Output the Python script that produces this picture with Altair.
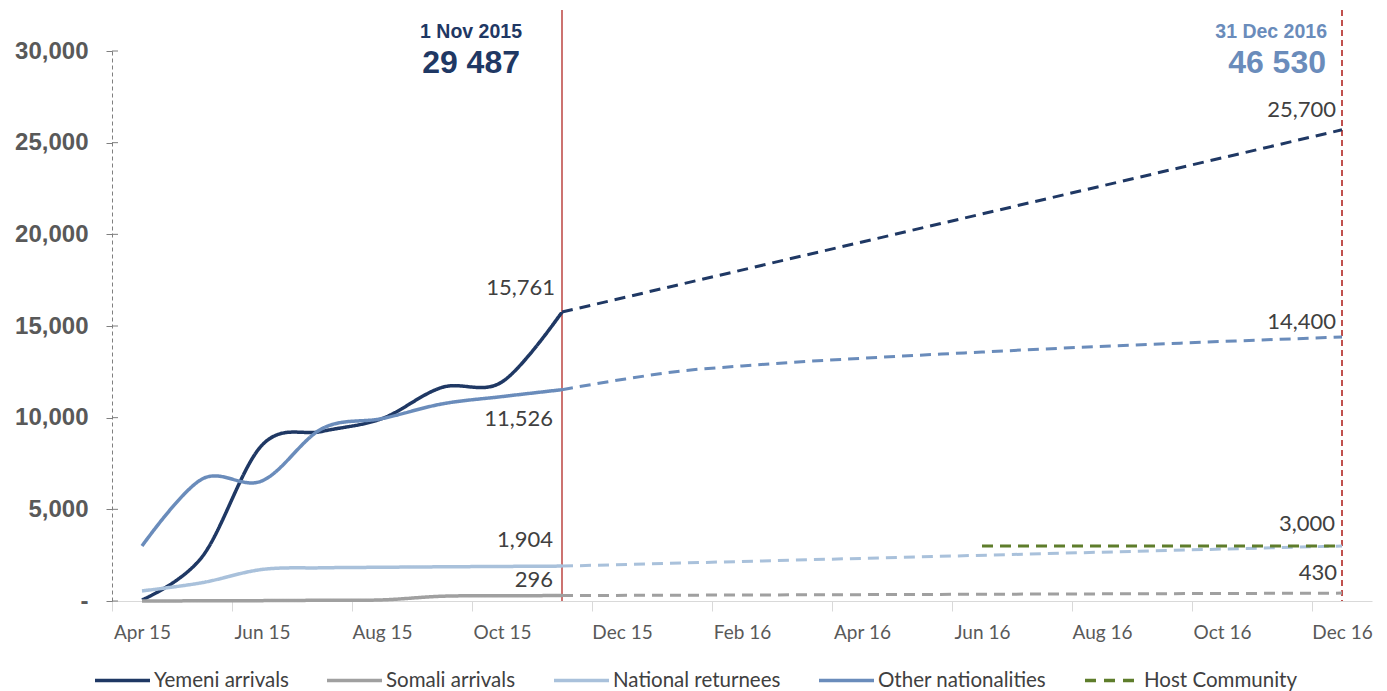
import altair as alt
import pandas as pd

# ---------------- data ----------------
series_names = ["Yemeni arrivals", "Somali arrivals", "National returnees",
                "Other nationalities", "Host Community"]
series_colors = ["#1f3864", "#a0a0a0", "#a9c1db", "#6a8cbb", "#5e7d2b"]

actual_months = ["2015-04", "2015-05", "2015-06", "2015-07",
                 "2015-08", "2015-09", "2015-10", "2015-11"]
yemeni_actual = [60, 2400, 8500, 9250, 9950, 11650, 11950, 15761]
somali_actual = [0, 10, 20, 40, 60, 260, 285, 296]
national_actual = [550, 1000, 1720, 1810, 1840, 1865, 1885, 1904]
other_actual = [3000, 6650, 6550, 9400, 9950, 10750, 11150, 11526]

yemeni_proj_months = ["2015-11", "2016-12"]
yemeni_proj = [15761, 25700]
somali_proj_months = ["2015-11", "2016-12"]
somali_proj = [296, 430]
national_proj_months = ["2015-11", "2016-12"]
national_proj = [1904, 3000]
other_proj_months = ["2015-11", "2015-12", "2016-01", "2016-02", "2016-06", "2016-12"]
other_proj = [11526, 12080, 12550, 12820, 13580, 14400]
host_proj_months = ["2016-06", "2016-12"]
host_proj = [3000, 3000]

tick_labels = ["Apr 15", "Jun 15", "Aug 15", "Oct 15", "Dec 15", "Feb 16",
               "Apr 16", "Jun 16", "Aug 16", "Oct 16", "Dec 16"]
y_ticks = [0, 5000, 10000, 15000, 20000, 25000, 30000]

event_months = ["2015-11", "2016-12"]
event_dates = ["1 Nov 2015", "31 Dec 2016"]
event_totals = ["29 487", "46 530"]


def month_pos(m):
    y, mo = m.split("-")
    return (int(y) - 2015) * 12 + int(mo) - 4 + 0.5


rows = []
for name, months, vals in [
    ("Yemeni arrivals", actual_months, yemeni_actual),
    ("Somali arrivals", actual_months, somali_actual),
    ("National returnees", actual_months, national_actual),
    ("Other nationalities", actual_months, other_actual),
]:
    for m, v in zip(months, vals):
        rows.append({"series": name, "month": m, "pos": month_pos(m), "value": v, "phase": "actual"})
for name, months, vals in [
    ("Yemeni arrivals", yemeni_proj_months, yemeni_proj),
    ("Somali arrivals", somali_proj_months, somali_proj),
    ("National returnees", national_proj_months, national_proj),
    ("Other nationalities", other_proj_months, other_proj),
    ("Host Community", host_proj_months, host_proj),
]:
    for m, v in zip(months, vals):
        rows.append({"series": name, "month": m, "pos": month_pos(m), "value": v, "phase": "projection"})
df = pd.DataFrame(rows)
actual_df = df[df.phase == "actual"]
proj_df = df[df.phase == "projection"]

events = pd.DataFrame({"pos": [month_pos(m) for m in event_months],
                       "date": event_dates, "total": event_totals})
yt = pd.DataFrame({"value": y_ticks})

# ---------------- scales / encodings ----------------
W, H = 1260, 550
xscale = alt.Scale(domain=[0, 21], nice=False, zero=False)
yscale = alt.Scale(domain=[0, 30000], nice=False)

label_expr = "[" + ",".join("'%s'" % t for t in tick_labels) + "][round(datum.value / 2)]"
x_axis = alt.Axis(values=list(range(0, 21, 2)), labelExpr=label_expr, labelOffset=30,
                  labelFlush=False, labelOverlap=False, grid=False, title=None,
                  domainColor="#d9d9d9", domainWidth=1.2, tickColor="#d9d9d9", tickSize=10,
                  labelFont="Lato", labelFontSize=19, labelColor="#595959", labelPadding=12)
y_axis = alt.Axis(values=y_ticks, grid=False, title=None,
                  labelExpr="datum.value == 0 ? '-\u00a0\u00a0' : format(datum.value, ',')",
                  labelFont="Liberation Sans", labelFontWeight="bold", labelFontSize=24,
                  labelColor="#595959", labelPadding=18,
                  domainColor="#7f7f7f", domainDash=[4, 3], domainWidth=1,
                  tickColor="#7f7f7f", tickSize=6, tickWidth=1)

legend = alt.Legend(orient="none", legendX=-19, legendY=600, direction="horizontal", title=None,
                    symbolType="stroke", symbolSize=3025, symbolStrokeWidth=3.5,
                    labelFont="Lato", labelFontSize=20.5, labelColor="#404040",
                    columnPadding=31, labelOffset=2, padding=0, labelLimit=300)

color_enc = alt.Color("series:N", scale=alt.Scale(domain=series_names, range=series_colors),
                      legend=legend)
dash_enc = alt.StrokeDash("series:N",
                          scale=alt.Scale(domain=series_names,
                                          range=[[1, 0], [1, 0], [1, 0], [1, 0], [11, 8]]),
                          legend=legend)

X = alt.X("pos:Q", scale=xscale, axis=x_axis)
Y = alt.Y("value:Q", scale=yscale, axis=y_axis)

actual_lines = alt.Chart(actual_df).mark_line(interpolate="cardinal", strokeWidth=3.5).encode(
    x=X, y=Y, color=color_enc, strokeDash=dash_enc, detail="series:N", order="pos:Q")

proj_lines = alt.Chart(proj_df).mark_line(interpolate="monotone", strokeWidth=3,
                                          strokeDash=[11, 7]).encode(
    x=alt.X("pos:Q", scale=xscale), y=alt.Y("value:Q", scale=yscale),
    color=color_enc, detail="series:N", order="pos:Q")

# y-axis tick crosses (inner half)
inner_ticks = alt.Chart(yt).mark_rule(color="#7f7f7f", strokeWidth=1).encode(
    y=alt.Y("value:Q", scale=yscale), x=alt.value(0), x2=alt.value(6))

# event lines
red = "#c0504d"
ev_solid = alt.Chart(events).transform_filter("datum.date == '1 Nov 2015'").mark_rule(
    color=red, strokeWidth=1.6).encode(
    x=alt.X("pos:Q", scale=xscale), y=alt.value(-41), y2=alt.value(H))
ev_dash = alt.Chart(events).transform_filter("datum.date == '31 Dec 2016'").mark_rule(
    color=red, strokeWidth=2, strokeDash=[6, 4]).encode(
    x=alt.X("pos:Q", scale=xscale), y=alt.value(-41), y2=alt.value(H))

ann_colors = {"1 Nov 2015": "#1f3864", "31 Dec 2016": "#6a8cbb"}
ann_dx = {"1 Nov 2015": (-40, -42), "31 Dec 2016": (-15, -16)}
ann_layers = []
for d in event_dates:
    base = alt.Chart(events).transform_filter("datum.date == '%s'" % d)
    ann_layers.append(base.mark_text(align="right", baseline="middle", font="Liberation Sans",
                                     fontWeight="bold", fontSize=19.5, color=ann_colors[d],
                                     dx=ann_dx[d][0]).encode(
        x=alt.X("pos:Q", scale=xscale), y=alt.value(-19), text="date:N"))
    ann_layers.append(base.mark_text(align="right", baseline="middle", font="Liberation Sans",
                                     fontWeight="bold", fontSize=32, color=ann_colors[d],
                                     dx=ann_dx[d][1]).encode(
        x=alt.X("pos:Q", scale=xscale), y=alt.value(12), text="total:N"))

# value labels at segment ends
label_offsets = {
    ("Yemeni arrivals", "2015-11"): (-7, -24),
    ("Other nationalities", "2015-11"): (-9, 29),
    ("National returnees", "2015-11"): (-9, -26),
    ("Somali arrivals", "2015-11"): (-9, -16),
    ("Yemeni arrivals", "2016-12"): (-6, -20),
    ("Other nationalities", "2016-12"): (-6, -15),
    ("Host Community", "2016-12"): (-7, -22),
    ("Somali arrivals", "2016-12"): (-5, -20),
}
label_layers = []
for (s, m), (dx, dy) in label_offsets.items():
    phase = "actual" if m == "2015-11" and s != "Host Community" else "projection"
    label_layers.append(
        alt.Chart(df).transform_filter(
            "datum.series == '%s' && datum.month == '%s' && datum.phase == '%s'" % (s, m, phase)
        ).transform_calculate(lbl="format(datum.value, ',')").mark_text(
            align="right", baseline="middle", font="Lato", fontSize=22, color="#404040",
            dx=dx, dy=dy).encode(
            x=alt.X("pos:Q", scale=xscale), y=alt.Y("value:Q", scale=yscale), text="lbl:N"))

chart = alt.layer(
    inner_ticks, ev_solid, ev_dash, actual_lines, proj_lines, *ann_layers, *label_layers
).properties(
    width=W, height=H,
    autosize=alt.AutoSizeParams(type="none"),
    padding={"left": 104, "top": 43, "right": 7, "bottom": 92},
    background="white",
).configure_view(stroke=None)

chart.save("out.html", embed_options={"renderer": "svg", "actions": False})
